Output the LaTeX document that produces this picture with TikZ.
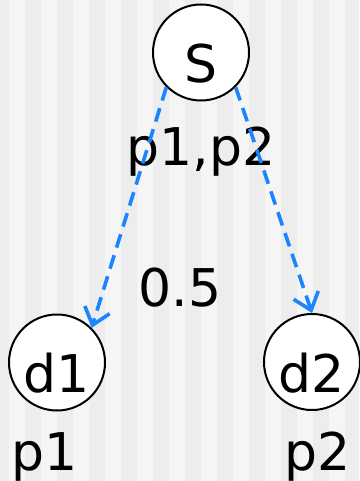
\documentclass[tikz,border=0pt]{standalone}
\usepackage{fontspec}
\setmainfont{DejaVu Sans}
\usetikzlibrary{arrows.meta}
\definecolor{stripeA}{HTML}{EDEDED}
\definecolor{stripeB}{HTML}{F5F5F5}
\definecolor{arrowblue}{HTML}{1A85FF}
\begin{document}
\begin{tikzpicture}[x=1pt,y=-1pt,
  bigtext/.style={font=\fontsize{52}{60}\selectfont},
  vertex/.style={circle, draw=black, line width=2pt, fill=white, minimum size=96pt,
     inner sep=0pt, text height=60pt, text depth=0pt, bigtext},
  lbl/.style={anchor=base, inner sep=0pt, bigtext},
  flow/.style={draw=arrowblue, line width=3.6pt, dash pattern=on 14pt off 8pt,
     -{Straight Barb[length=16pt,width=26pt,line width=3.6pt]}}
]
\useasboundingbox (0,0) rectangle (359,481);
\fill[stripeB] (0,0) rectangle (359,481);
\begin{scope}
\clip (0,0) rectangle (359,481);
\foreach \k in {0,...,11} {
  \pgfmathsetmacro{\xa}{-7+32*\k}
  \pgfmathsetmacro{\xb}{9+32*\k}
  \fill[stripeA] (\xa,0) rectangle (\xb,481);
}
\end{scope}
\node[vertex] (S) at (201,52.5) {S};
\node[vertex] (d1) at (57,362.5) {d1};
\node[vertex] (d2) at (312,362) {d2};
\node[lbl] (lS) at (201,165) {p1,p2};
\node[lbl] (l05) at (180,306) {0.5};
\node[lbl] (l1) at (45,470) {p1};
\node[lbl] (l2) at (317.5,470) {p2};
\draw[flow] (S.225) -- (d1.45);
\draw[flow] (S.315) -- (d2.north);
\end{tikzpicture}
\end{document}
